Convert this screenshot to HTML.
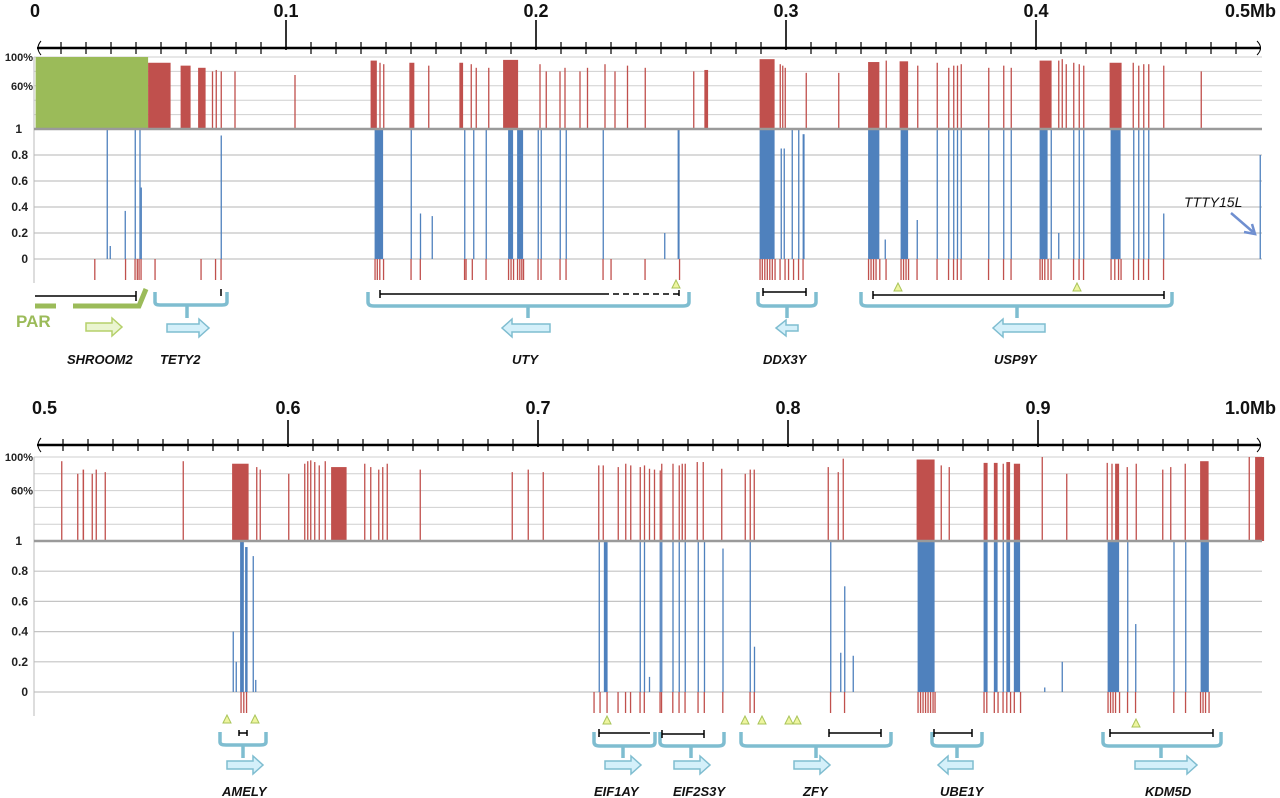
<!DOCTYPE html>
<html><head><meta charset="utf-8">
<style>
html,body{margin:0;padding:0;background:#fff;}
svg{display:block;font-family:"Liberation Sans",sans-serif;}
.yl{font-size:11px;font-weight:bold;fill:#222;}
.xl{font-size:18px;font-weight:bold;fill:#111;}
.gene{font-size:13px;font-weight:bold;font-style:italic;fill:#111;}
</style></head>
<body>
<svg id="fig" width="1280" height="798" viewBox="0 0 1280 798" xmlns="http://www.w3.org/2000/svg">
<g id="layer"></g>
<g id="annot" fill="none">
  <!-- PAR -->
  <line x1="35" y1="296" x2="136" y2="296" stroke="#000" stroke-width="1.5"/>
  <line x1="136" y1="291" x2="136" y2="301" stroke="#000" stroke-width="1.5"/>
  <path d="M35 306 H56 M73 306 H139 L146 289" stroke="#9bbb59" stroke-width="5"/>
  <text x="16" y="327" style="font-size:17px;font-weight:bold;fill:#9bbb59">PAR</text>
  <path d="M86 323 H112 V318 L122 327 L112 336 V331 H86 Z" fill="#eaf5d0" stroke="#b5d06a" stroke-width="1.5"/>
  <text x="67" y="364" class="gene">SHROOM2</text>
  <!-- TETY2 -->
  <path d="M155 292 V302 Q155 305 160 305 H187 V318 M187 305 H222 Q227 305 227 302 V292" stroke="#7fbdd0" stroke-width="3.5"/>
  <line x1="221" y1="289" x2="221" y2="296" stroke="#000" stroke-width="1.5"/>
  <path d="M167 324 H199 V319 L209 328 L199 337 V332 H167 Z" fill="#d4f0fa" stroke="#7fbdd0" stroke-width="1.5"/>
  <text x="160" y="364" class="gene">TETY2</text>
  <!-- UTY -->
  <path d="M368 292 V302 Q368 306 374 306 H528 V318 M528 306 H683 Q689 306 689 302 V292" stroke="#7fbdd0" stroke-width="3.5"/>
  <path d="M380 294 H603 M380 290 V298" stroke="#000" stroke-width="1.5"/>
  <path d="M603 294 H679 M679 290 V298" stroke="#000" stroke-width="1.5" stroke-dasharray="6 4"/>
  <path d="M672 288 L676 280 L680 288 Z" fill="#eef5a0" stroke="#a9c45a"/>
  <path d="M550 324 H512 V319 L502 328 L512 337 V332 H550 Z" fill="#d4f0fa" stroke="#7fbdd0" stroke-width="1.5"/>
  <text x="512" y="364" class="gene">UTY</text>
  <!-- DDX3Y -->
  <path d="M758 292 V302 Q758 306 764 306 H787 V318 M787 306 H810 Q816 306 816 302 V292" stroke="#7fbdd0" stroke-width="3.5"/>
  <path d="M763 292 H806 M763 288 V296 M806 288 V296" stroke="#000" stroke-width="1.5"/>
  <path d="M798 325 H786 V320 L776 328 L786 336 V331 H798 Z" fill="#d4f0fa" stroke="#7fbdd0" stroke-width="1.5"/>
  <text x="763" y="364" class="gene">DDX3Y</text>
  <!-- USP9Y -->
  <path d="M861 292 V302 Q861 306 867 306 H1017 V318 M1017 306 H1166 Q1172 306 1172 302 V292" stroke="#7fbdd0" stroke-width="3.5"/>
  <path d="M873 295 H1164 M873 291 V299 M1164 291 V299" stroke="#000" stroke-width="1.5"/>
  <path d="M894 291 L898 283 L902 291 Z M1073 291 L1077 283 L1081 291 Z" fill="#eef5a0" stroke="#a9c45a"/>
  <path d="M1045 324 H1003 V319 L993 328 L1003 337 V332 H1045 Z" fill="#d4f0fa" stroke="#7fbdd0" stroke-width="1.5"/>
  <text x="994" y="364" class="gene">USP9Y</text>
  <!-- TTTY15L -->
  <text x="1184" y="207" style="font-size:14px;font-style:italic;fill:#111">TTTY15L</text>
  <path d="M1231 213 L1253 232 M1244 232 L1255 234 L1252 224" stroke="#6f8fd0" stroke-width="2.5"/>

  <!-- AMELY -->
  <path d="M223 723 L227 715 L231 723 Z M251 723 L255 715 L259 723 Z" fill="#eef5a0" stroke="#a9c45a"/>
  <path d="M220 732 V742 Q220 745 226 745 H243 V758 M243 745 H260 Q266 745 266 742 V732" stroke="#7fbdd0" stroke-width="3.5"/>
  <path d="M239 733 H247 M239 730 V736 M247 730 V736" stroke="#000" stroke-width="1.5"/>
  <path d="M227 761 H253 V756 L263 765 L253 774 V769 H227 Z" fill="#d4f0fa" stroke="#7fbdd0" stroke-width="1.5"/>
  <text x="222" y="796" class="gene">AMELY</text>
  <!-- EIF1AY -->
  <path d="M603 724 L607 716 L611 724 Z" fill="#eef5a0" stroke="#a9c45a"/>
  <path d="M594 732 V742 Q594 746 600 746 H623 V758 M623 746 H650 Q655 746 655 742 V732" stroke="#7fbdd0" stroke-width="3.5"/>
  <path d="M599 733 H650 M599 729 V737" stroke="#000" stroke-width="1.5"/>
  <path d="M605 761 H631 V756 L641 765 L631 774 V769 H605 Z" fill="#d4f0fa" stroke="#7fbdd0" stroke-width="1.5"/>
  <text x="594" y="796" class="gene">EIF1AY</text>
  <!-- EIF2S3Y -->
  <path d="M660 732 V742 Q660 746 666 746 H691 V758 M691 746 H718 Q724 746 724 742 V732" stroke="#7fbdd0" stroke-width="3.5"/>
  <path d="M662 734 H704 M662 730 V738 M704 730 V738" stroke="#000" stroke-width="1.5"/>
  <path d="M674 761 H700 V756 L710 765 L700 774 V769 H674 Z" fill="#d4f0fa" stroke="#7fbdd0" stroke-width="1.5"/>
  <text x="673" y="796" class="gene">EIF2S3Y</text>
  <!-- ZFY -->
  <path d="M741 724 L745 716 L749 724 Z M758 724 L762 716 L766 724 Z M785 724 L789 716 L793 724 Z M793 724 L797 716 L801 724 Z" fill="#eef5a0" stroke="#a9c45a"/>
  <path d="M741 732 V742 Q741 746 747 746 H816 V758 M816 746 H885 Q891 746 891 742 V732" stroke="#7fbdd0" stroke-width="3.5"/>
  <path d="M829 733 H881 M829 729 V737 M881 729 V737" stroke="#000" stroke-width="1.5"/>
  <path d="M794 761 H820 V756 L830 765 L820 774 V769 H794 Z" fill="#d4f0fa" stroke="#7fbdd0" stroke-width="1.5"/>
  <text x="803" y="796" class="gene">ZFY</text>
  <!-- UBE1Y -->
  <path d="M932 732 V742 Q932 746 938 746 H957 V758 M957 746 H976 Q982 746 982 742 V732" stroke="#7fbdd0" stroke-width="3.5"/>
  <path d="M934 733 H972 M934 729 V737 M972 729 V737" stroke="#000" stroke-width="1.5"/>
  <path d="M973 761 H948 V756 L938 765 L948 774 V769 H973 Z" fill="#d4f0fa" stroke="#7fbdd0" stroke-width="1.5"/>
  <text x="940" y="796" class="gene">UBE1Y</text>
  <!-- KDM5D -->
  <path d="M1132 727 L1136 719 L1140 727 Z" fill="#eef5a0" stroke="#a9c45a"/>
  <path d="M1103 732 V742 Q1103 746 1109 746 H1161 V758 M1161 746 H1215 Q1221 746 1221 742 V732" stroke="#7fbdd0" stroke-width="3.5"/>
  <path d="M1110 733 H1213 M1110 729 V737 M1213 729 V737" stroke="#000" stroke-width="1.5"/>
  <path d="M1135 761 H1187 V756 L1197 765 L1187 774 V769 H1135 Z" fill="#d4f0fa" stroke="#7fbdd0" stroke-width="1.5"/>
  <text x="1145" y="796" class="gene">KDM5D</text>
</g>
</svg>
<script>
// ---- data (kb positions; [start, end, value]) ----
const topAxisLabels = ["0","0.1","0.2","0.3","0.4","0.5Mb"];
const botAxisLabels = ["0.5","0.6","0.7","0.8","0.9","1.0Mb"];
const coverageTicks = ["100%","60%"];
const divergenceTicks = ["1","0.8","0.6","0.4","0.2","0"];

const topPAR = [[0,45,100]];
const topCoverage = [
 [45,54,92],[58,62,88],[65,68,85],[70.5,70.5,80],[72,72,82],[74,74,80],[79.5,79.5,80],[103.5,103.5,75],
 [134,136.5,95],[137.5,137.5,92],[139,139,90],[149.5,151.5,92],[157,157,88],[169.5,171,92],[174,174,90],[176,176,85],[181,181,85],
 [187,193,96],[201.5,201.5,90],[204,204,80],[209.5,209.5,80],[211.5,211.5,85],[217.5,217.5,80],[220.5,220.5,85],[227.5,227.5,90],
 [231.5,231.5,80],[236.5,236.5,88],[243.6,243.6,85],[263,263,80],[267.5,269,82],
 [289.6,295.6,97],[297.6,297.6,90],[298.6,298.6,88],[299.6,299.6,85],[308,308,78],[321,321,78],
 [333,337.5,93],[340,340,95],[345.6,349,94],[352.6,352.6,88],[360.4,360.4,92],[365,365,85],[367,367,88],[368.5,368.5,88],[370,370,90],
 [381,381,85],[387,387,88],[390,390,85],[401.6,406.4,95],[409,409,95],[410.4,410.4,97],[412,412,90],[415,415,92],[417.2,417.2,90],[419,419,88],
 [429.6,434.4,92],[438.8,438.8,92],[441,441,88],[443,443,90],[445,445,90],[451,451,88],[466,466,80]
];
const topDivergence = [
 [28.4,28.4,1],[29.6,29.6,0.1],[35.6,35.6,0.37],[39.6,39.6,1],[41.5,41.5,1],[42,42,0.55],[74,74,0.95],
 [135.6,139,1],[137,137,0.53],[150,150,1],[153.7,153.7,0.35],[158.4,158.4,0.33],[171.4,171.4,1],[175,175,1],[180,180,1],
 [189,191,1],[192.6,195,1],[200.8,200.8,1],[202,202,1],[209.6,209.6,1],[212,212,1],[226.8,226.8,1],
 [251.4,251.4,0.2],[256.8,257.6,1],[289.6,295.6,1],[298,298,0.85],[299.2,299.2,0.85],[302.4,302.4,1],[305,305,1],[306.8,307.6,0.96],
 [333,337.5,1],[339.6,339.6,0.15],[346,349,1],[352.4,352.4,0.3],[360.4,360.4,1],[365,365,1],[367,367,1],[368.5,368.5,1],[370,370,1],
 [381,381,1],[387,387,1],[390,390,1],[401.6,404.8,1],[406,406,1],[409,409,0.2],[415,415,1],[417.2,417.2,1],[419,419,1],
 [430,434,1],[439,439,1],[441,441,1],[443,443,1],[445,445,1],[451,451,0.35],[489.6,489.6,0.8]
];
const topSites = [23.5,35.8,39.6,40.5,41.2,42,47.6,66,71.8,74,135.6,136.5,137.5,139,150,153.7,171.4,172,174.5,180,189,190,191,192.6,193.5,194.3,195,200.8,202,209.6,212,226.8,230,
 243.6,257.4,289.6,290.5,291.5,292.5,293.5,294.5,295.6,297.6,299.6,301,303,305,306.8,
 333,334,335,336,337.5,340,346,347,348,349,352.4,360.4,365,367,368.5,370,381,387,390,401.6,402.5,403.5,404.8,406,415,417.2,419,430,431.5,433,434,439,441,443,445,451];

const botCoverage = [
 [509.4,509.4,95],[515.8,515.8,80],[518,518.6,85],[521.6,521.6,80],[523.2,523.2,85],[526.8,526.8,82],[558,558.4,95],
 [577.8,584.4,92],[587.4,587.4,88],[588.8,588.8,85],[600.2,600.2,80],
 [606.6,606.6,92],[607.8,607.8,95],[609,609,96],[610.6,610.6,94],[612.4,612.4,90],[614.8,614.8,95],[617.4,623.6,88],
 [630.6,630.6,92],[633,633,88],[636.2,636.2,85],[637.8,637.8,88],[639.6,639.6,92],[652.8,652.8,85],
 [689.6,689.6,82],[696,696,85],[702,702.4,82],[724.2,724.2,90],[726,726,90],
 [732,732,88],[735,735,92],[737,737,90],[740.8,740.8,88],[742.5,742.5,90],[744.5,744.5,86],[746.5,746.5,85],[748.8,748.8,84],
 [749.4,749.4,92],[753.9,753.9,92],[756.4,756.4,90],[757.6,757.6,92],[758.8,758.8,92],[763.6,763.6,94],[766,766,94],[773.4,773.4,86],
 [782.8,782.8,80],[784.8,784.8,85],[786.4,786.4,85],[816,816,88],[820,820,82],[822,822,98],
 [851.6,858.8,97],[861.2,861.2,90],[864.4,864.4,88],[878.4,880,93],[882.5,884,93],[886,886,92],[887.5,889,94],[890.5,893,92],
 [901.6,901.6,100],[911.4,911.4,80],[927.6,928,93],[929.5,929.5,92],[931,932.6,92],[935.6,935.6,88],[939.2,939.2,92],
 [949.8,949.8,85],[953,953,88],[958.8,958.8,92],[965,968.4,95],[984.4,984.4,100],[987,990.6,100]
];
const botDivergence = [
 [578,578,0.4],[579.2,579.2,0.2],[581,582.5,1],[583,584,0.96],[586,586,0.9],[587,587,0.08],
 [724.4,724.4,1],[726.5,728,1],[727,727,0.75],
 [740.8,740.8,1],[742.5,742.5,1],[744.5,744.5,0.1],[748.8,748.8,1],[749.4,749.4,1],[753.9,753.9,1],[756.4,756.4,1],[758.8,758.8,1],
 [764,764,1],[766.5,766.5,1],[773.9,773.9,0.95],[784.8,784.8,1],[786.5,786.5,0.3],[817,817,1],[821,821,0.26],[822.6,822.6,0.7],[826,826,0.24],
 [852,858.8,1],[878.4,880,1],[882.5,884,1],[886,886,1],[887.5,889,1],[890.5,893,1],[902.6,902.6,0.03],[909.6,909.6,0.2],
 [928,932.6,1],[935.8,935.8,1],[939,939,0.45],[954.3,954.3,1],[959,959,1],[965.2,968.5,1]
];
const botSites = [581.2,582.3,583.4,722.4,724.8,727.6,
 732,735,737,740.8,742.5,748.8,749.4,753.9,756.4,758.8,764,766.5,773.9,784.8,786.5,817,822.6,
 852,853,854,855,856,857,858,858.8,878.4,879.5,882.5,884,886,887.5,889,890.5,893,
 928,929,930,931,932.6,935.8,939,954.3,959,965,966,967,968.4];

// ---- rendering ----
const NS = "http://www.w3.org/2000/svg";
const layer = document.getElementById("layer");
const RED="#c0504d", BLUE="#4f81bd", GREEN="#9bbb59";

function mk(tag, attrs, parent){
  const e = document.createElementNS(NS, tag);
  for (const k in attrs) e.setAttribute(k, attrs[k]);
  (parent||layer).appendChild(e);
  return e;
}

const panels = [
 {name:"top", kb0:0, x0:36, axisY:48, majTop:20, labelY:17, top:57, base:129, zero:259, tickBot:280,
  labels:topAxisLabels, cov:topCoverage, par:topPAR, div:topDivergence, sites:topSites},
 {name:"bottom", kb0:500, x0:38, axisY:445, majTop:420, labelY:414, top:457, base:541, zero:692, tickBot:713,
  labels:botAxisLabels, cov:botCoverage, par:[], div:botDivergence, sites:botSites}
];

panels.forEach(p=>{
  const xs = kb => p.x0 + (kb - p.kb0)*2.5;
  const yCov = v => p.base - (p.base - p.top)*v/100;
  const yDiv = v => p.zero - (p.zero - p.base)*v;
  const g = mk("g", {});
  
  

  // gridlines
  [100,80,60,40,20].forEach(v=>{
    mk("line",{x1:34,x2:1262,y1:yCov(v),y2:yCov(v),stroke:"#cfcfcf","stroke-width":1},g);
  });
  [0.8,0.6,0.4,0.2,0].forEach(v=>{
    mk("line",{x1:34,x2:1262,y1:yDiv(v),y2:yDiv(v),stroke:"#c4c4c4","stroke-width":1.2},g);
  });
  mk("line",{x1:34,x2:34,y1:p.top,y2:p.tickBot+3,stroke:"#bbb","stroke-width":1},g);

  // y labels
  const covTickVals=[100,60];
  coverageTicks.forEach((t,i)=>{
    const tx = mk("text",{x:33,y:yCov(covTickVals[i])+4,"text-anchor":"end",class:"yl"},g);
    tx.textContent=t;
    
    
  });
  divergenceTicks.forEach((t,i)=>{
    const v = 1 - i*0.2;
    const tx = mk("text",{x:i==0?22:28,y:yDiv(v)+4,"text-anchor":"end",class:"yl",style:"font-size:12px"},g);
    tx.textContent=t;
    
    
  });

  function bar(d,color,yf,isCov,nm){
    const x1=xs(d[0]), x2=xs(d[1]);
    const w=Math.max(1.3,x2-x1);
    let y,h;
    if(isCov){ y=yf(d[2]); h=p.base-y; } else { y=yf(d[2]); h=p.zero-y; }
    const r = mk("rect",{x:x1-0.4,y:y,width:w,height:Math.max(0.8,h),fill:color},g);
    
    
  }
  p.par.forEach(d=>bar(d,GREEN,yCov,true,'par-coverage-bar'));
  p.cov.forEach(d=>bar(d,RED,yCov,true,'coverage-bar'));
  p.div.forEach(d=>bar(d,BLUE,yDiv,false,'divergence-bar'));
  p.sites.forEach(s=>{
    const r = mk("rect",{x:xs(s)-0.6,y:p.zero,width:1.3,height:p.tickBot-p.zero,fill:RED},g);
    
    
  });
  // thick baseline
  mk("line",{x1:34,x2:1262,y1:p.base,y2:p.base,stroke:"#9a9a9a","stroke-width":2.5},g);

  // x axis
  const ax = mk("g",{},g);
  
  
  mk("line",{x1:37,x2:1261,y1:p.axisY,y2:p.axisY,stroke:"#000","stroke-width":2.5},ax);
  mk("path",{d:`M41 ${p.axisY-7} Q35 ${p.axisY} 41 ${p.axisY+7}`,fill:"none",stroke:"#000","stroke-width":1},ax);
  mk("path",{d:`M1257 ${p.axisY-7} Q1264 ${p.axisY} 1257 ${p.axisY+7}`,fill:"none",stroke:"#000","stroke-width":1},ax);
  for(let k=1;k<50;k++){
    const kb=p.kb0+k*10, x=xs(kb);
    if(x>1258) break;
    if(k%10==0){
      mk("line",{x1:x,x2:x,y1:p.majTop,y2:p.axisY+2,stroke:"#000","stroke-width":1.6},ax);
    } else {
      mk("line",{x1:x,x2:x,y1:p.axisY-6,y2:p.axisY+6,stroke:"#000","stroke-width":1.2},ax);
    }
  }
  p.labels.forEach((t,i)=>{
    let x = xs(p.kb0+i*100);
    let anchor="middle";
    if(i==0){anchor="start"; x = x-6;}
    if(i==p.labels.length-1){anchor="end"; x=1276;}
    const tx = mk("text",{x:x,y:p.labelY,"text-anchor":anchor,class:"xl"},ax);
    tx.textContent=t;
    
    
  });
});
</script>
</body></html>
